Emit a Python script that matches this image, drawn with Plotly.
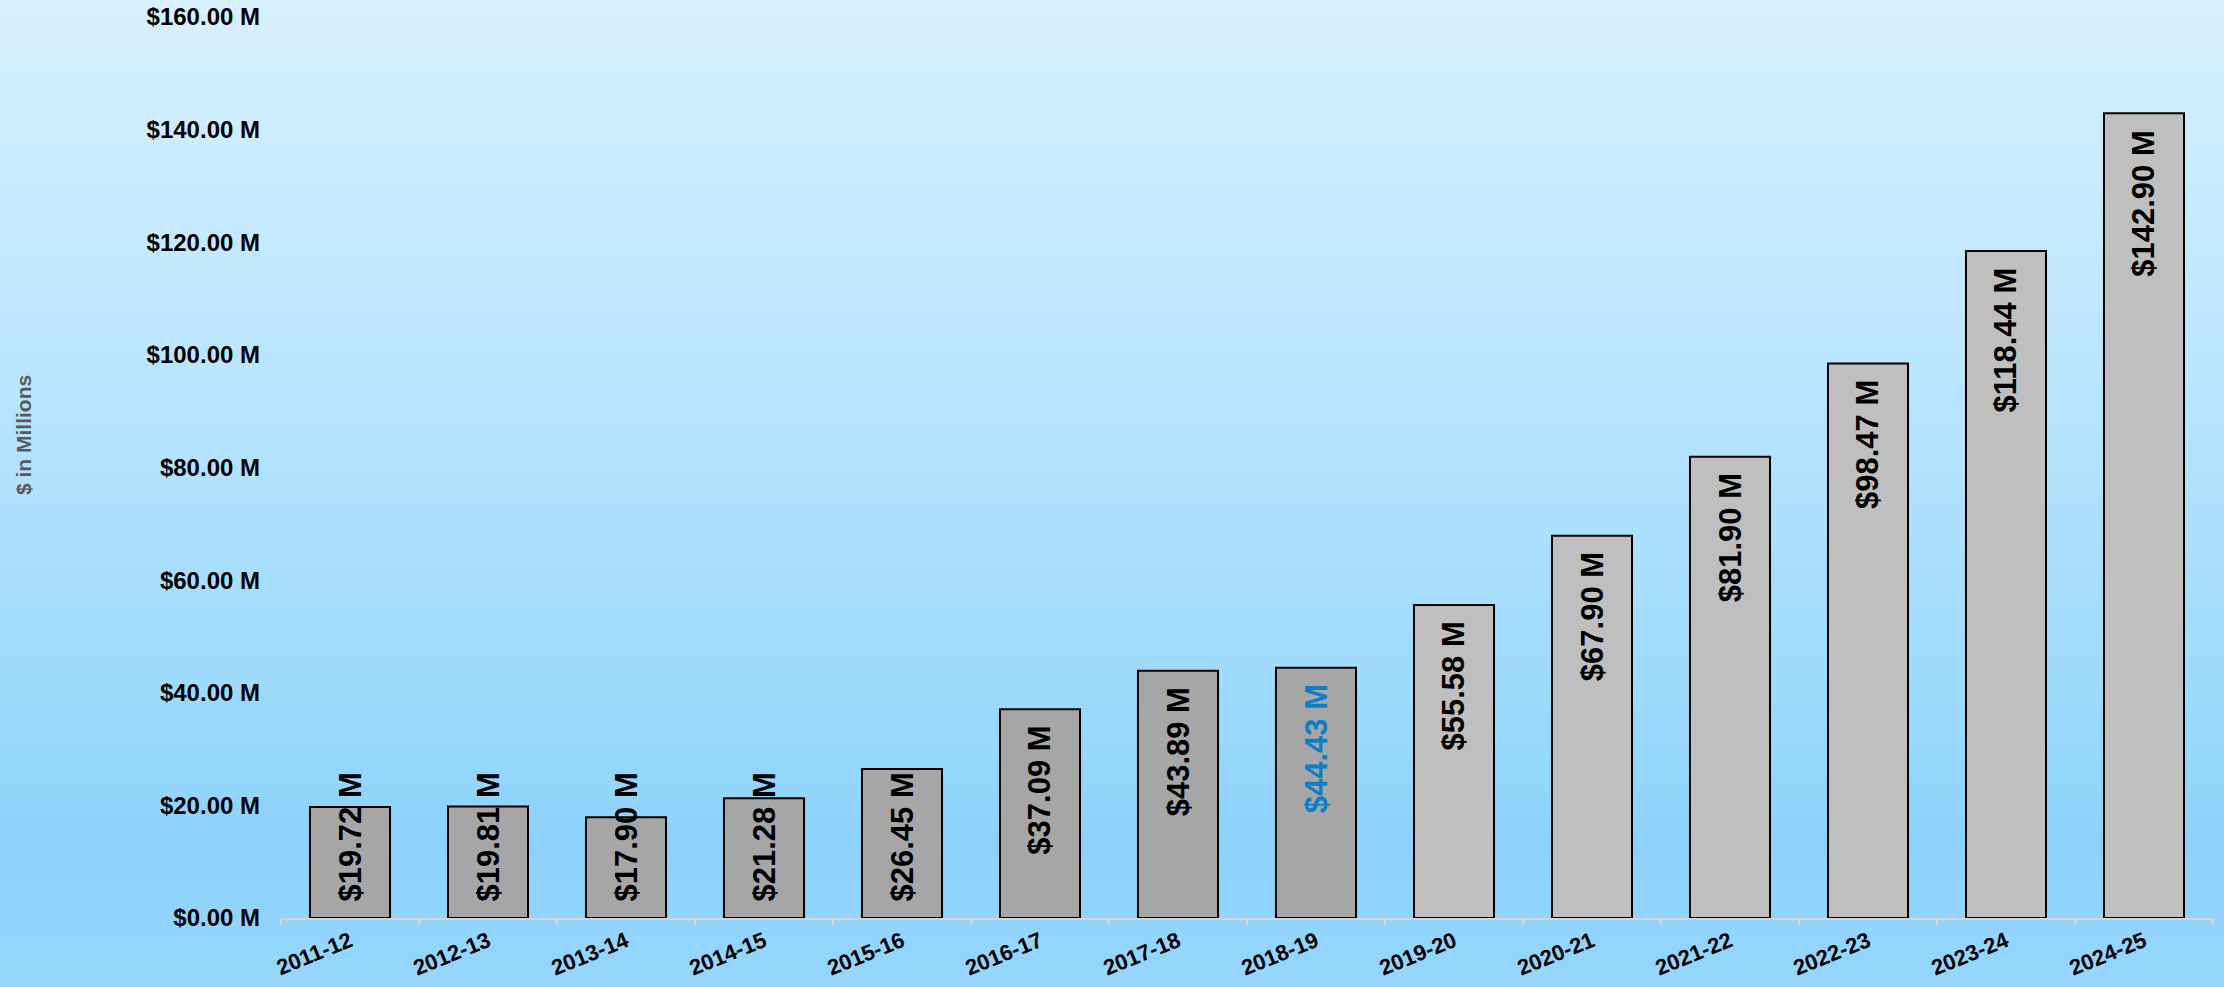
import base64
import struct
import zlib

import plotly.graph_objects as go

# ---- data ----
years = ["2011-12", "2012-13", "2013-14", "2014-15", "2015-16", "2016-17", "2017-18",
         "2018-19", "2019-20", "2020-21", "2021-22", "2022-23", "2023-24", "2024-25"]
values = [19.72, 19.81, 17.90, 21.28, 26.45, 37.09, 43.89,
          44.43, 55.58, 67.90, 81.90, 98.47, 118.44, 142.90]
bar_colors = ["#a6a6a6"] * 8 + ["#bfbfbf"] * 6
label_colors = ["#000000"] * 7 + ["#0a7fc8"] + ["#000000"] * 6
y_ticks = [0, 20, 40, 60, 80, 100, 120, 140, 160]
y_ticktext = ["$%.2f M" % v for v in y_ticks]

# ---- geometry ----
W, H = 2224, 987
ML, MR, MT, MB = 281, 11, 17, 69
PW, PH = W - ML - MR, H - MT - MB
FONT = "Liberation Sans, Arial, sans-serif"


# ---- background gradient as PNG (1 px wide) ----
def grad_png(h, stops):
    rows = b""
    for y in range(h):
        for i in range(len(stops) - 1):
            y0, c0 = stops[i]
            y1, c1 = stops[i + 1]
            if y0 <= y <= y1:
                t = (y - y0) / (y1 - y0) if y1 > y0 else 0
                c = [round(a + (b - a) * t) for a, b in zip(c0, c1)]
                break
        rows += b"\x00" + bytes(c)

    def chunk(tag, data):
        return (struct.pack(">I", len(data)) + tag + data +
                struct.pack(">I", zlib.crc32(tag + data) & 0xffffffff))

    png = b"\x89PNG\r\n\x1a\n"
    png += chunk(b"IHDR", struct.pack(">IIBBBBB", 1, h, 8, 2, 0, 0, 0))
    png += chunk(b"IDAT", zlib.compress(rows))
    png += chunk(b"IEND", b"")
    return "data:image/png;base64," + base64.b64encode(png).decode()


bg_stops = [(0, (216, 240, 254)), (400, (184, 228, 253)), (700, (156, 218, 252)),
            (840, (141, 210, 251)), (986, (150, 214, 252))]
bg_src = grad_png(H, bg_stops)

fig = go.Figure()
fig.add_trace(go.Bar(
    x=years, y=values,
    marker=dict(color=bar_colors, line=dict(color="#000000", width=2)),
    width=0.58,
    hoverinfo="x+y",
))

# value labels (rotated), anchored inside end, or pushed up from base if too long
px_per_unit = PH / 160.0
text_len_px = 130
annotations = []
for yr, v, col in zip(years, values, label_colors):
    txt = "$%.2f M" % v
    if v * px_per_unit - 17 - text_len_px >= 16:
        annotations.append(dict(x=yr, y=v, yanchor="top", yshift=-15, xanchor="center",
                                text=txt, textangle=-90, showarrow=False,
                                font=dict(family=FONT, size=31, color=col, weight="bold")))
    else:
        annotations.append(dict(x=yr, y=0, yanchor="bottom", yshift=14, xanchor="center",
                                text=txt, textangle=-90, showarrow=False,
                                font=dict(family=FONT, size=31, color=col, weight="bold")))

annotations.append(dict(xref="paper", yref="paper", x=-(ML - 23) / PW, y=1 - (435 - MT) / PH,
                        text="$ in Millions", textangle=-90, showarrow=False,
                        xanchor="center", yanchor="middle",
                        font=dict(family=FONT, size=21, color="#595959", weight="bold")))

fig.update_layout(
    width=W, height=H,
    margin=dict(l=ML, r=MR, t=MT, b=MB, pad=0, autoexpand=False),
    paper_bgcolor="#a8dcfc",
    plot_bgcolor="rgba(0,0,0,0)",
    showlegend=False,
    annotations=annotations,
    images=[dict(source=bg_src, xref="paper", yref="paper",
                 x=-ML / PW, y=1 + MT / PH, sizex=W / PW, sizey=H / PH,
                 sizing="stretch", layer="below", xanchor="left", yanchor="top")],
    font=dict(family=FONT, color="#000000"),
    xaxis=dict(
        type="category",
        range=[-0.5, len(years) - 0.5],
        automargin=False,
        showgrid=False, zeroline=False,
        showline=True, linecolor="#d4d4d4", linewidth=2,
        ticks="outside", ticklen=6, tickwidth=2, tickcolor="#d4d4d4",
        tickson="boundaries",
        tickangle=-22,
        ticklabelstandoff=0,
        tickfont=dict(family=FONT, size=22, color="#000000", weight="bold"),
        fixedrange=True,
    ),
    yaxis=dict(
        range=[0, 160],
        automargin=False,
        tickvals=y_ticks, ticktext=y_ticktext,
        showgrid=False, zeroline=False, showline=False,
        ticks="", ticklabelstandoff=20,
        tickfont=dict(family=FONT, size=24, color="#000000", weight="bold"),
        fixedrange=True,
    ),
)

fig.write_html("out.html")
